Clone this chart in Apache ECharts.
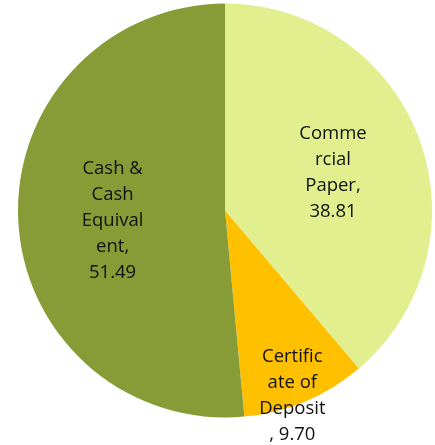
<!DOCTYPE html>
<html><head><meta charset="utf-8">
<script src="https://cdn.jsdelivr.net/npm/echarts@6/dist/echarts.min.js"></script>
<style>html,body{margin:0;padding:0;background:#fff}#c{width:435px;height:445px}</style>
</head><body><div id="c"></div>
<script>
const categories = ['Commercial Paper', 'Certificate of Deposit', 'Cash & Cash Equivalent'];
const values = [38.81, 9.70, 51.49];
const labelText = ['Comme\nrcial\nPaper,\n', 'Certific\nate of\nDeposit\n, ', 'Cash &\nCash\nEquival\nent,\n'];
const colors = ['#e1ef8f', '#ffc000', '#879b36'];
const labelShift = [[8, -1], [26, 87], [-6, 5]];

const chart = echarts.init(document.getElementById('c'), null, {renderer: 'canvas'});
chart.setOption({
  animation: false,
  series: [{
    type: 'pie',
    center: [225, 210.5],
    radius: [0, 207],
    startAngle: 90,
    clockwise: true,
    data: categories.map((n, i) => ({name: n, value: values[i], itemStyle: {color: colors[i]}})),
    itemStyle: {borderWidth: 0},
    label: {
      position: 'inside',
      formatter: p => labelText[p.dataIndex] + p.value.toFixed(2),
      fontFamily: 'Open Sans',
      fontSize: 18.5,
      lineHeight: 26,
      color: '#111',
      align: 'center'
    },
    labelLine: {show: false},
    labelLayout: p => ({dx: labelShift[p.dataIndex][0], dy: labelShift[p.dataIndex][1]}),
    emphasis: {disabled: true}
  }]
});
</script></body></html>
